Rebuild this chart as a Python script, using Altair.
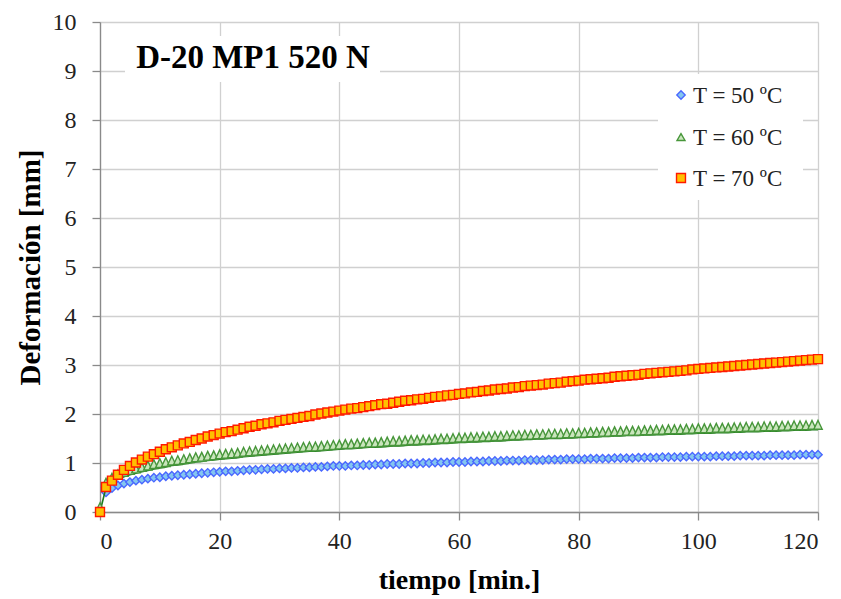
import altair as alt
import pandas as pd

# Creep test: deformation vs. time for three temperatures
tiempo = list(range(0, 121))

d50 = [0, 0.40, 0.49, 0.54, 0.58, 0.61, 0.64, 0.66, 0.68, 0.70, 0.71,
       0.73, 0.74, 0.75, 0.76, 0.77, 0.78, 0.79, 0.80, 0.81, 0.82,
       0.83, 0.83, 0.84, 0.85, 0.86, 0.86, 0.87, 0.88, 0.88, 0.89,
       0.89, 0.90, 0.90, 0.91, 0.91, 0.92, 0.92, 0.93, 0.94, 0.94,
       0.94, 0.95, 0.95, 0.96, 0.96, 0.97, 0.97, 0.98, 0.98, 0.98,
       0.99, 0.99, 0.99, 1.00, 1.00, 1.01, 1.01, 1.01, 1.02, 1.02,
       1.02, 1.03, 1.03, 1.03, 1.04, 1.04, 1.04, 1.05, 1.05, 1.05,
       1.06, 1.06, 1.06, 1.06, 1.07, 1.07, 1.07, 1.08, 1.08, 1.08,
       1.08, 1.09, 1.09, 1.09, 1.09, 1.10, 1.10, 1.10, 1.10, 1.11,
       1.11, 1.11, 1.11, 1.12, 1.12, 1.12, 1.12, 1.13, 1.13, 1.13,
       1.13, 1.13, 1.14, 1.14, 1.14, 1.14, 1.15, 1.15, 1.15, 1.15,
       1.15, 1.16, 1.16, 1.16, 1.16, 1.16, 1.17, 1.17, 1.17, 1.17]

d60 = [0, 0.50, 0.60, 0.67, 0.72, 0.76, 0.79, 0.82, 0.85, 0.88, 0.90,
       0.92, 0.95, 0.96, 0.98, 1.00, 1.02, 1.03, 1.05, 1.06, 1.08,
       1.09, 1.10, 1.11, 1.13, 1.14, 1.15, 1.16, 1.17, 1.18, 1.19,
       1.20, 1.21, 1.22, 1.23, 1.24, 1.24, 1.25, 1.26, 1.27, 1.28,
       1.29, 1.29, 1.30, 1.31, 1.32, 1.32, 1.33, 1.34, 1.35, 1.35,
       1.36, 1.37, 1.37, 1.38, 1.38, 1.39, 1.40, 1.40, 1.41, 1.42,
       1.42, 1.43, 1.43, 1.44, 1.44, 1.45, 1.45, 1.46, 1.47, 1.47,
       1.48, 1.48, 1.49, 1.49, 1.50, 1.50, 1.50, 1.51, 1.51, 1.52,
       1.52, 1.53, 1.53, 1.54, 1.54, 1.55, 1.55, 1.56, 1.56, 1.56,
       1.57, 1.57, 1.58, 1.58, 1.59, 1.59, 1.59, 1.60, 1.60, 1.61,
       1.61, 1.61, 1.62, 1.62, 1.62, 1.63, 1.63, 1.64, 1.64, 1.64,
       1.65, 1.65, 1.65, 1.66, 1.66, 1.67, 1.67, 1.67, 1.68, 1.68]

d70 = [0, 0.51, 0.64, 0.76, 0.86, 0.94, 1.01, 1.07, 1.13, 1.18, 1.23,
       1.28, 1.32, 1.36, 1.40, 1.43, 1.47, 1.50, 1.54, 1.57, 1.60,
       1.63, 1.65, 1.68, 1.71, 1.74, 1.76, 1.79, 1.81, 1.83, 1.86,
       1.88, 1.90, 1.92, 1.94, 1.96, 1.99, 2.01, 2.03, 2.05, 2.07,
       2.09, 2.11, 2.12, 2.14, 2.16, 2.18, 2.20, 2.21, 2.23, 2.25,
       2.27, 2.28, 2.30, 2.31, 2.33, 2.35, 2.36, 2.38, 2.39, 2.41,
       2.42, 2.44, 2.45, 2.47, 2.48, 2.50, 2.51, 2.52, 2.54, 2.55,
       2.57, 2.58, 2.59, 2.60, 2.62, 2.63, 2.64, 2.66, 2.67, 2.68,
       2.70, 2.71, 2.72, 2.73, 2.74, 2.76, 2.77, 2.78, 2.79, 2.80,
       2.82, 2.83, 2.84, 2.85, 2.86, 2.87, 2.88, 2.89, 2.91, 2.92,
       2.93, 2.94, 2.95, 2.96, 2.97, 2.98, 2.99, 3.00, 3.01, 3.02,
       3.03, 3.04, 3.05, 3.06, 3.07, 3.08, 3.09, 3.10, 3.11, 3.12]

series_labels = ["T = 50 ºC", "T = 60 ºC", "T = 70 ºC"]
chart_title = "D-20 MP1 520 N"
x_title = "tiempo [min.]"
y_title = "Deformación [mm]"
x_ticks = [0, 20, 40, 60, 80, 100, 120]
y_ticks = [0, 1, 2, 3, 4, 5, 6, 7, 8, 9, 10]

SERIF = "Liberation Serif"
W, H = 718, 490

# marker styles: (shape, size, fill, stroke)
BLUE = ("diamond", 70, "#84c6ef", "#4a68ff")
# triangles sit just above their point, with the connecting line along their base
GREEN = ("M0,-2.3L1.05,-0.1L-1.05,-0.1Z", 64, "#c9e5bc", "#47963a")
ORANGE = ("square", 80, "#ffc000", "#ff1a00")
GREEN_LINE = "#1d7a1d"

x_enc = alt.X(
    "t:Q",
    scale=alt.Scale(domain=[0, 120], nice=False),
    axis=alt.Axis(
        values=x_ticks, title=x_title, tickSize=8, labelPadding=9,
        labelFont=SERIF, labelFontSize=24, labelColor="#222222",
        titleFont=SERIF, titleFontSize=28, titleFontWeight="bold",
        titleColor="#000000", titleX=W / 2, titleY=68, titleBaseline="middle",
        domainColor="#8a8a8a", tickColor="#8a8a8a", domainWidth=1.3,
        tickWidth=1.3, gridColor="#d0d0d0", gridWidth=1.3,
    ),
)
y_enc = alt.Y(
    "d:Q",
    scale=alt.Scale(domain=[0, 10], nice=False),
    axis=alt.Axis(
        values=y_ticks, title=y_title, tickSize=8, labelPadding=16,
        labelFont=SERIF, labelFontSize=24, labelColor="#222222",
        titleFont=SERIF, titleFontSize=29, titleFontWeight="bold",
        titleColor="#000000", titleX=-70, titleY=H / 2, titleAngle=-90,
        titleAlign="center", titleBaseline="middle",
        domainColor="#8a8a8a", tickColor="#8a8a8a", domainWidth=1.3,
        tickWidth=1.3, gridColor="#d0d0d0", gridWidth=1.3,
    ),
)


def points(values, style):
    shape, size, fill, stroke = style
    df = pd.DataFrame({"t": tiempo, "d": values})
    return alt.Chart(df).mark_point(
        shape=shape, size=size, filled=True, fill=fill, stroke=stroke,
        strokeWidth=1.4, opacity=1, fillOpacity=1,
    ).encode(x=x_enc, y=y_enc)


line60 = alt.Chart(pd.DataFrame({"t": tiempo, "d": d60})).mark_line(
    color=GREEN_LINE, strokeWidth=1.6
).encode(x=x_enc, y=y_enc)

one = pd.DataFrame({"k": [0]})

# title box
title_box = alt.Chart(one).mark_rect(fill="white").encode(
    x=alt.value(25), x2=alt.value(280), y=alt.value(14), y2=alt.value(60)
)
title_text = alt.Chart(pd.DataFrame({"label": [chart_title]})).mark_text(
    font=SERIF, fontSize=33, fontWeight="bold", color="#000000",
    align="center", baseline="middle",
).encode(x=alt.value(153), y=alt.value(36), text="label:N")

# legend box and entries
legend_box = alt.Chart(one).mark_rect(fill="white").encode(
    x=alt.value(558), x2=alt.value(703), y=alt.value(52), y2=alt.value(178)
)
legend_layers = [legend_box]
legend_styles = [BLUE, ("triangle-up", 64, GREEN[2], GREEN[3]), ORANGE]
legend_y = [73, 115, 156]
for label, style, ly in zip(series_labels, legend_styles, legend_y):
    shape, size, fill, stroke = style
    legend_layers.append(
        alt.Chart(one).mark_point(
            shape=shape, size=size, filled=True, fill=fill, stroke=stroke,
            strokeWidth=1.4, opacity=1,
        ).encode(x=alt.value(581), y=alt.value(ly))
    )
    legend_layers.append(
        alt.Chart(pd.DataFrame({"label": [label]})).mark_text(
            font=SERIF, fontSize=23, color="#222222", align="left",
            baseline="middle",
        ).encode(x=alt.value(593), y=alt.value(ly + 1), text="label:N")
    )

chart = alt.layer(
    points(d50, BLUE),
    line60,
    points(d60, GREEN),
    points(d70, ORANGE),
    title_box,
    title_text,
    *legend_layers,
).properties(
    width=W,
    height=H,
    autosize=alt.AutoSizeParams(type="none"),
    padding={"left": 100, "top": 22, "right": 23, "bottom": 87},
    background="white",
).configure_view(strokeWidth=0)

chart.save("out.html", embed_options={"renderer": "svg", "actions": False})
